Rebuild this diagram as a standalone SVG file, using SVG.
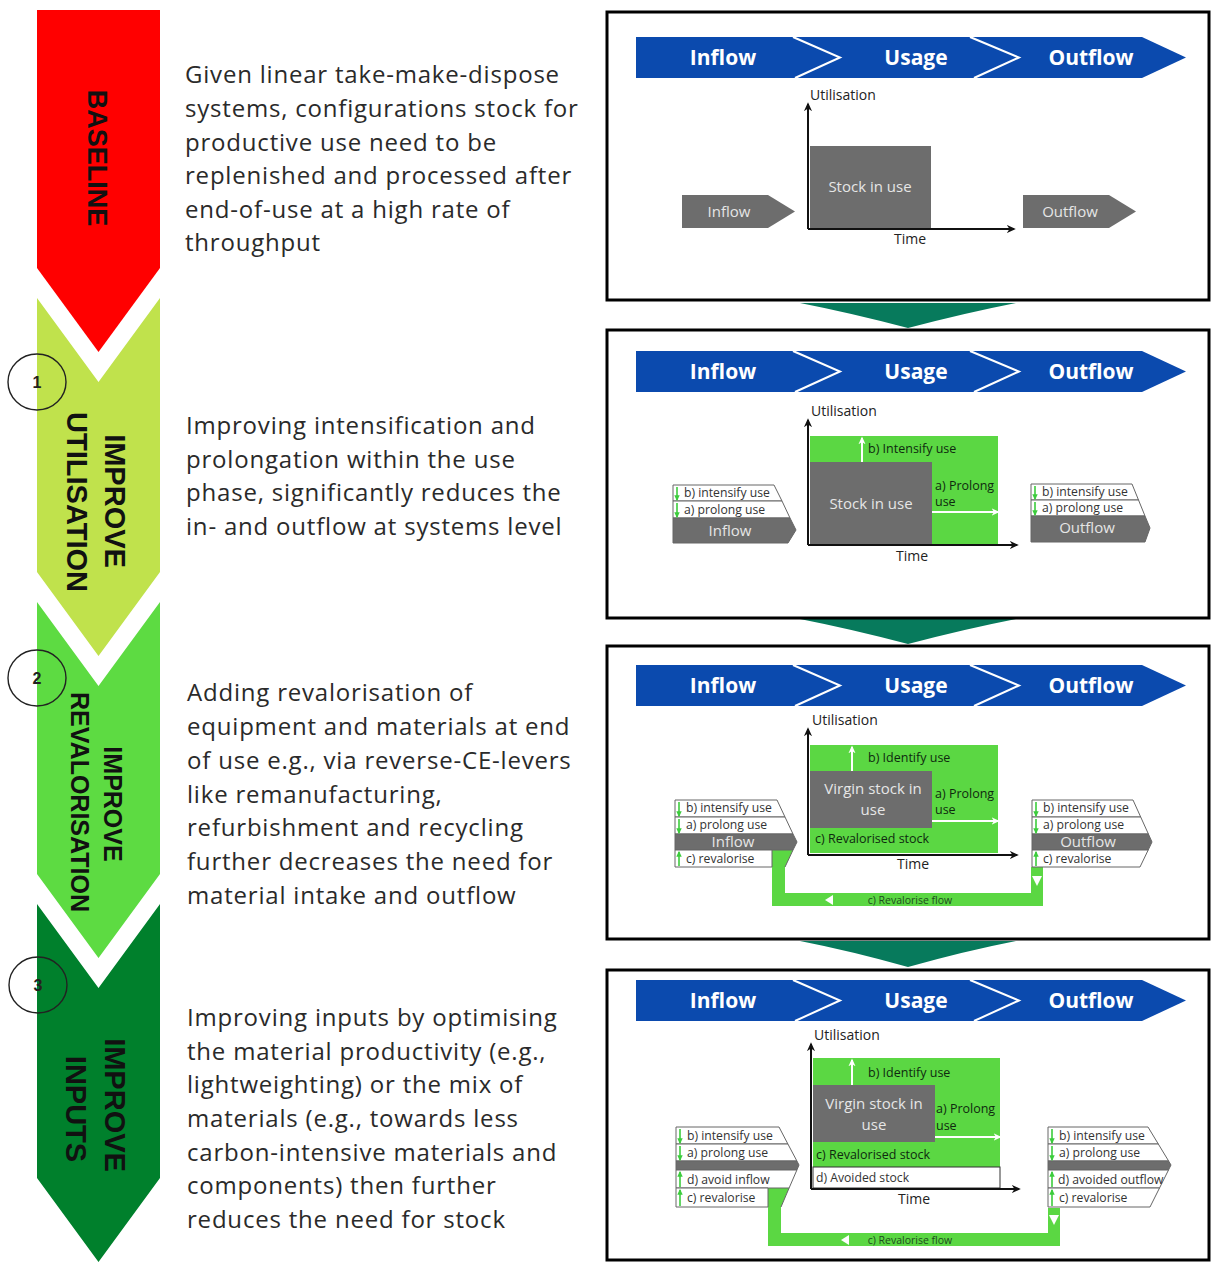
<svg xmlns="http://www.w3.org/2000/svg" width="1211" height="1262" viewBox="0 0 1211 1262">
<style>
.para{font-family:"Open Sans","Liberation Sans",sans-serif;font-size:24px;letter-spacing:0.8px;fill:#2a2a2a}
.chev{font-family:"Liberation Sans",Arial,sans-serif;font-weight:bold;fill:#111}
.num{font-family:"Liberation Sans",Arial,sans-serif;font-size:16px;font-weight:bold;fill:#222;text-anchor:middle}
.circ{fill:none;stroke:#222;stroke-width:1.4}
.panel{fill:#fff;stroke:#000;stroke-width:3}
.band{fill:#0b4aae}
.sep{fill:none;stroke:#fff;stroke-width:2}
.bt{font-family:"Open Sans","Liberation Sans",sans-serif;font-size:21px;font-weight:bold;fill:#fff;text-anchor:middle}
.lbl{font-family:"Open Sans","Liberation Sans",sans-serif;font-size:14px;fill:#222}
.ax{fill:none;stroke:#111;stroke-width:2}
.stock{fill:#6d6d6d}
.st{font-family:"Open Sans","Liberation Sans",sans-serif;font-size:15px;fill:#e6e6e6;text-anchor:middle}
.grn{fill:#5bd743}
.gt{font-family:"Open Sans","Liberation Sans",sans-serif;font-size:12.5px;fill:#0f2a0f}
.wa{fill:none;stroke:#fff;stroke-width:2}
.row{fill:#fff;stroke:#666;stroke-width:1}
.grow{fill:#6d6d6d;stroke:#666;stroke-width:1}
.rt{font-family:"Open Sans","Liberation Sans",sans-serif;font-size:12.2px;fill:#333}
.ga{fill:none;stroke:#3ccc3c;stroke-width:1.6}
.teal{fill:#077a5c}
.tri{fill:#fff}
.ft{font-family:"Open Sans","Liberation Sans",sans-serif;font-size:10.5px;fill:#1d4a1d;text-anchor:middle}
</style>
<defs>
<marker id="ah" viewBox="0 0 10 10" refX="8" refY="5" markerWidth="9" markerHeight="9" markerUnits="userSpaceOnUse" orient="auto"><path d="M0,0.5 L10,5 L0,9.5 L3,5 Z" fill="#111"/></marker>
<marker id="wh" viewBox="0 0 10 10" refX="8" refY="5" markerWidth="8" markerHeight="8" markerUnits="userSpaceOnUse" orient="auto"><path d="M0,0.5 L10,5 L0,9.5 L3,5 Z" fill="#fff"/></marker>
<marker id="gh" viewBox="0 0 10 10" refX="8" refY="5" markerWidth="6" markerHeight="6" markerUnits="userSpaceOnUse" orient="auto"><path d="M0,0.5 L10,5 L0,9.5 Z" fill="#3ccc3c"/></marker>
</defs>

<!-- Left chevrons -->
<g id="chevron-baseline">
<path d="M37,10 H160 V268 L98.5,352 L37,268 Z" fill="#ff0000"/>
<text class="chev" font-size="27" text-anchor="middle" transform="translate(88,158) rotate(90)">BASELINE</text>
</g>
<g id="chevron-utilisation">
<path d="M37,298 L98.5,382 L160,298 V572 L98.5,656 L37,572 Z" fill="#c0e24c"/>
<text class="chev" font-size="29" text-anchor="middle" transform="translate(105,501) rotate(90)">IMPROVE</text>
<text class="chev" font-size="29" text-anchor="middle" transform="translate(67,502) rotate(90)">UTILISATION</text>
</g>
<g id="chevron-revalorisation">
<path d="M37,602 L98.5,686 L160,602 V874 L98.5,958 L37,874 Z" fill="#5ddb42"/>
<text class="chev" font-size="25" text-anchor="middle" transform="translate(104,804) rotate(90)">IMPROVE</text>
<text class="chev" font-size="25" text-anchor="middle" transform="translate(71,802) rotate(90)">REVALORISATION</text>
</g>
<g id="chevron-inputs">
<path d="M37,904 L98.5,988 L160,904 V1178 L98.5,1262 L37,1178 Z" fill="#00802c"/>
<text class="chev" font-size="29" text-anchor="middle" transform="translate(105,1105) rotate(90)">IMPROVE</text>
<text class="chev" font-size="29" text-anchor="middle" transform="translate(66,1109) rotate(90)">INPUTS</text>
</g>
<g id="step-circles">
<ellipse class="circ" cx="37" cy="382" rx="29" ry="28"/>
<text class="num" x="37" y="388">1</text>
<ellipse class="circ" cx="37" cy="678" rx="29" ry="28"/>
<text class="num" x="37" y="684">2</text>
<ellipse class="circ" cx="38" cy="985" rx="29" ry="28"/>
<text class="num" x="38" y="991">3</text>
</g>

<!-- Descriptions -->
<g id="text-baseline">
<text class="para" x="185" y="83">Given linear take-make-dispose</text>
<text class="para" x="185" y="117">systems, configurations stock for</text>
<text class="para" x="185" y="151">productive use need to be</text>
<text class="para" x="185" y="184">replenished and processed after</text>
<text class="para" x="185" y="218">end-of-use at a high rate of</text>
<text class="para" x="185" y="251">throughput</text>
</g>
<g id="text-utilisation">
<text class="para" x="186" y="434">Improving intensification and</text>
<text class="para" x="186" y="468">prolongation within the use</text>
<text class="para" x="186" y="501">phase, significantly reduces the</text>
<text class="para" x="186" y="535">in- and outflow at systems level</text>
</g>
<g id="text-revalorisation">
<text class="para" x="187" y="701">Adding revalorisation of</text>
<text class="para" x="187" y="735">equipment and materials at end</text>
<text class="para" x="187" y="769">of use e.g., via reverse-CE-levers</text>
<text class="para" x="187" y="803">like remanufacturing,</text>
<text class="para" x="187" y="836">refurbishment and recycling</text>
<text class="para" x="187" y="870">further decreases the need for</text>
<text class="para" x="187" y="904">material intake and outflow</text>
</g>
<g id="text-inputs">
<text class="para" x="187" y="1026">Improving inputs by optimising</text>
<text class="para" x="187" y="1060">the material productivity (e.g.,</text>
<text class="para" x="187" y="1093">lightweighting) or the mix of</text>
<text class="para" x="187" y="1127">materials (e.g., towards less</text>
<text class="para" x="187" y="1161">carbon-intensive materials and</text>
<text class="para" x="187" y="1194">components) then further</text>
<text class="para" x="187" y="1228">reduces the need for stock</text>
</g>

<!-- Connectors between panels -->
<g id="connectors">
<path class="teal" d="M800,303 H1016 Q965,313 908,328 Q851,313 800,303 Z"/>
<path class="teal" d="M800,619 H1016 Q965,629 908,644 Q851,629 800,619 Z"/>
<path class="teal" d="M800,941 H1016 Q965,951 908,967 Q851,951 800,941 Z"/>
</g>

<!-- Panel 1 -->
<g id="panel-baseline">
<rect class="panel" x="607" y="12" width="602" height="288"/>
<path class="band" d="M636,37 H1142 L1186,57.5 L1142,78 H636 Z"/>
<polyline class="sep" points="793,37 840,57.5 795,78"/>
<polyline class="sep" points="970,37 1019,57.5 974,78"/>
<text class="bt" x="723" y="65">Inflow</text>
<text class="bt" x="916" y="65">Usage</text>
<text class="bt" x="1091" y="65">Outflow</text>
<text class="lbl" x="810" y="100">Utilisation</text>
<rect class="stock" x="810" y="146" width="121" height="83"/>
<text class="st" x="870" y="192">Stock in use</text>
<path class="ax" d="M808,229 V104" marker-end="url(#ah)"/>
<path class="ax" d="M808,229 H1014" marker-end="url(#ah)"/>
<path class="stock" d="M682,195 H768 L795,211.5 L768,228 H682 Z"/>
<text class="st" x="729" y="217">Inflow</text>
<path class="stock" d="M1023,195 H1109 L1136,211.5 L1109,228 H1023 Z"/>
<text class="st" x="1070" y="217">Outflow</text>
<text class="lbl" x="910" y="244" text-anchor="middle">Time</text>
</g>

<!-- Panel 2 -->
<g id="panel-utilisation">
<rect class="panel" x="607" y="330" width="602" height="288"/>
<path class="band" d="M636,351 H1142 L1186,371.5 L1142,392 H636 Z"/>
<polyline class="sep" points="793,351 840,371.5 795,392"/>
<polyline class="sep" points="970,351 1019,371.5 974,392"/>
<text class="bt" x="723" y="379">Inflow</text>
<text class="bt" x="916" y="379">Usage</text>
<text class="bt" x="1091" y="379">Outflow</text>
<text class="lbl" x="811" y="416">Utilisation</text>
<rect class="grn" x="810" y="436" width="188" height="109"/>
<rect class="stock" x="810" y="462" width="122" height="83"/>
<text class="st" x="871" y="509">Stock in use</text>
<path class="wa" d="M862,462 V438" marker-end="url(#wh)"/>
<text class="gt" x="868" y="453">b) Intensify use</text>
<text class="gt" x="935" y="490">a) Prolong</text>
<text class="gt" x="935" y="506">use</text>
<path class="wa" d="M932,512 H998" marker-end="url(#wh)"/>
<path class="ax" d="M808,545 V420" marker-end="url(#ah)"/>
<path class="ax" d="M808,545 H1017" marker-end="url(#ah)"/>
<text class="lbl" x="912" y="561" text-anchor="middle">Time</text>
<!-- left stack -->
<path class="row" d="M673,485 H774 L782,501 H673 Z"/>
<path class="row" d="M673,501 H782 L790,518 H673 Z"/>
<path class="grow" d="M673,518 H790 L796,530 L788,543 H673 Z"/>
<path class="ga" d="M677,487 V500" marker-end="url(#gh)"/>
<path class="ga" d="M677,503 V517" marker-end="url(#gh)"/>
<text class="rt" x="684" y="497">b) intensify use</text>
<text class="rt" x="684" y="514">a) prolong use</text>
<text class="st" x="730" y="536">Inflow</text>
<!-- right stack -->
<path class="row" d="M1031,484 H1132 L1138.5,500 H1031 Z"/>
<path class="row" d="M1031,500 H1138.5 L1145,516 H1031 Z"/>
<path class="grow" d="M1031,516 H1145 L1150,528 L1145,542 H1031 Z"/>
<path class="ga" d="M1035,486 V499" marker-end="url(#gh)"/>
<path class="ga" d="M1035,502 V515" marker-end="url(#gh)"/>
<text class="rt" x="1042" y="496">b) intensify use</text>
<text class="rt" x="1042" y="512">a) prolong use</text>
<text class="st" x="1087" y="533">Outflow</text>
</g>

<!-- Panel 3 -->
<g id="panel-revalorisation">
<rect class="panel" x="607" y="646" width="602" height="293"/>
<path class="band" d="M636,665 H1142 L1186,685.5 L1142,706 H636 Z"/>
<polyline class="sep" points="793,665 840,685.5 795,706"/>
<polyline class="sep" points="970,665 1019,685.5 974,706"/>
<text class="bt" x="723" y="693">Inflow</text>
<text class="bt" x="916" y="693">Usage</text>
<text class="bt" x="1091" y="693">Outflow</text>
<text class="lbl" x="812" y="725">Utilisation</text>
<rect class="grn" x="810" y="745" width="188" height="108"/>
<rect class="stock" x="810" y="771" width="122" height="57"/>
<text class="st" x="873" y="794" font-size="16">Virgin stock in</text>
<text class="st" x="873" y="815" font-size="16">use</text>
<path class="wa" d="M852,771 V747" marker-end="url(#wh)"/>
<text class="gt" x="868" y="762">b) Identify use</text>
<text class="gt" x="935" y="798">a) Prolong</text>
<text class="gt" x="935" y="814">use</text>
<path class="wa" d="M932,821 H998" marker-end="url(#wh)"/>
<text class="gt" x="815" y="843">c) Revalorised stock</text>
<path class="ax" d="M808,855 V729" marker-end="url(#ah)"/>
<path class="ax" d="M808,855 H1017" marker-end="url(#ah)"/>
<text class="lbl" x="913" y="869" text-anchor="middle">Time</text>
<!-- revalorise flow -->
<path class="grn" d="M772,850 H793 L785,867 V893 H1031 V867 H1043 V906 H772 Z"/>
<path class="tri" d="M1032,876 H1042 L1037,886 Z"/>
<path class="tri" d="M825,900 L833,895 V905 Z"/>
<text class="ft" x="910" y="904">c) Revalorise flow</text>
<!-- left stack -->
<path class="row" d="M675,800 H777 L785,817 H675 Z"/>
<path class="row" d="M675,817 H785 L793,834 H675 Z"/>
<path class="grow" d="M675,834 H793 L797,842 L793,850 H675 Z"/>
<path class="row" d="M675,850 H772 V867 H675 Z"/>
<path fill="none" stroke="#666" d="M793,850 L785,867"/>
<path class="ga" d="M679,802 V816" marker-end="url(#gh)"/>
<path class="ga" d="M679,819 V833" marker-end="url(#gh)"/>
<path class="ga" d="M679,866 V852" marker-end="url(#gh)"/>
<text class="rt" x="686" y="812">b) intensify use</text>
<text class="rt" x="686" y="829">a) prolong use</text>
<text class="st" x="733" y="847" font-size="14">Inflow</text>
<text class="rt" x="686" y="863">c) revalorise</text>
<!-- right stack -->
<path class="row" d="M1032,800 H1133 L1140.7,817 H1032 Z"/>
<path class="row" d="M1032,817 H1140.7 L1148.4,834 H1032 Z"/>
<path class="grow" d="M1032,834 H1148.4 L1152,842 L1148.2,850 H1032 Z"/>
<path class="row" d="M1032,850 H1148.2 L1140,867 H1032 Z"/>
<path class="ga" d="M1036,802 V816" marker-end="url(#gh)"/>
<path class="ga" d="M1036,819 V833" marker-end="url(#gh)"/>
<path class="ga" d="M1036,866 V852" marker-end="url(#gh)"/>
<text class="rt" x="1043" y="812">b) intensify use</text>
<text class="rt" x="1043" y="829">a) prolong use</text>
<text class="st" x="1088" y="847" font-size="14">Outflow</text>
<text class="rt" x="1043" y="863">c) revalorise</text>
</g>

<!-- Panel 4 -->
<g id="panel-inputs">
<rect class="panel" x="607" y="970" width="602" height="290"/>
<path class="band" d="M636,980 H1142 L1186,1000.5 L1142,1021 H636 Z"/>
<polyline class="sep" points="793,980 840,1000.5 795,1021"/>
<polyline class="sep" points="970,980 1019,1000.5 974,1021"/>
<text class="bt" x="723" y="1008">Inflow</text>
<text class="bt" x="916" y="1008">Usage</text>
<text class="bt" x="1091" y="1008">Outflow</text>
<text class="lbl" x="814" y="1040">Utilisation</text>
<rect class="grn" x="813" y="1058" width="187" height="109"/>
<rect x="813" y="1167" width="187" height="21" fill="#fff" stroke="#333" stroke-width="1"/>
<rect class="stock" x="813" y="1085" width="122" height="57"/>
<text class="st" x="874" y="1109" font-size="16">Virgin stock in</text>
<text class="st" x="874" y="1130" font-size="16">use</text>
<path class="wa" d="M852,1085 V1060" marker-end="url(#wh)"/>
<text class="gt" x="868" y="1077">b) Identify use</text>
<text class="gt" x="936" y="1113">a) Prolong</text>
<text class="gt" x="936" y="1130">use</text>
<path class="wa" d="M935,1137 H1000" marker-end="url(#wh)"/>
<text class="gt" x="816" y="1159">c) Revalorised stock</text>
<text class="rt" x="816" y="1182" font-size="12.5">d) Avoided stock</text>
<path class="ax" d="M811,1189 V1044" marker-end="url(#ah)"/>
<path class="ax" d="M811,1189 H1019" marker-end="url(#ah)"/>
<text class="lbl" x="914" y="1204" text-anchor="middle">Time</text>
<!-- revalorise flow -->
<path class="grn" d="M768,1188 H789 L781,1207 V1233 H1048 V1208 H1060 V1246 H768 Z"/>
<path class="tri" d="M1049,1215 H1059 L1054,1225 Z"/>
<path class="tri" d="M841,1240 L849,1235 V1245 Z"/>
<text class="ft" x="910" y="1244">c) Revalorise flow</text>
<!-- left stack -->
<path class="row" d="M676,1127 H779 L787.9,1144 H676 Z"/>
<path class="row" d="M676,1144 H787.9 L796.9,1161 H676 Z"/>
<path class="grow" d="M676,1161 H796.9 L799,1165 L796.9,1170 H676 Z"/>
<path class="row" d="M676,1170 H796.9 L789.1,1188 H676 Z"/>
<path class="row" d="M676,1188 H768 V1207 H676 Z"/>
<path fill="none" stroke="#666" d="M789.1,1188 L781,1207"/>
<path class="ga" d="M680,1129 V1143" marker-end="url(#gh)"/>
<path class="ga" d="M680,1146 V1160" marker-end="url(#gh)"/>
<path class="ga" d="M680,1187 V1172" marker-end="url(#gh)"/>
<path class="ga" d="M680,1206 V1190" marker-end="url(#gh)"/>
<text class="rt" x="687" y="1140">b) intensify use</text>
<text class="rt" x="687" y="1157">a) prolong use</text>
<text class="rt" x="687" y="1184">d) avoid inflow</text>
<text class="rt" x="687" y="1202">c) revalorise</text>
<!-- right stack -->
<path class="row" d="M1048,1127 H1148 L1158.3,1144 H1048 Z"/>
<path class="row" d="M1048,1144 H1158.3 L1168.6,1161 H1048 Z"/>
<path class="grow" d="M1048,1161 H1168.6 L1171,1165 L1168.5,1170 H1048 Z"/>
<path class="row" d="M1048,1170 H1168.5 L1159.5,1188 H1048 Z"/>
<path class="row" d="M1048,1188 H1159.5 L1150,1207 H1048 Z"/>
<path class="ga" d="M1052,1129 V1143" marker-end="url(#gh)"/>
<path class="ga" d="M1052,1146 V1160" marker-end="url(#gh)"/>
<path class="ga" d="M1052,1187 V1172" marker-end="url(#gh)"/>
<path class="ga" d="M1052,1206 V1190" marker-end="url(#gh)"/>
<text class="rt" x="1059" y="1140">b) intensify use</text>
<text class="rt" x="1059" y="1157">a) prolong use</text>
<text class="rt" x="1058" y="1184" font-size="10.2">d) avoided outflow</text>
<text class="rt" x="1059" y="1202">c) revalorise</text>
</g>
</svg>
